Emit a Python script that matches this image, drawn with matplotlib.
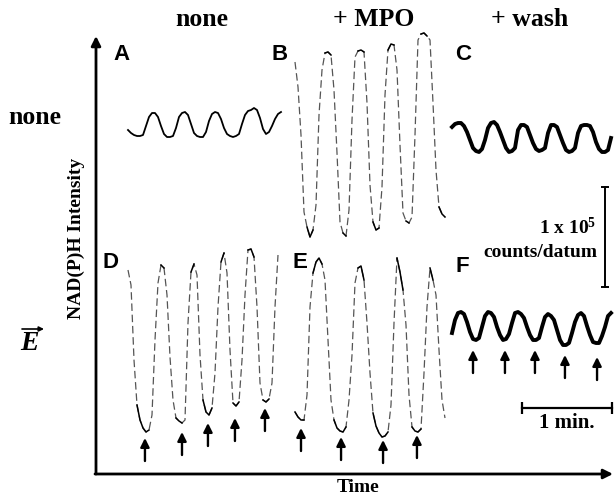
import numpy as np
import matplotlib
matplotlib.use("Agg")
import matplotlib.pyplot as plt

plt.rcParams['mathtext.fontset'] = 'custom'
plt.rcParams['mathtext.rm'] = 'Liberation Serif:bold'
plt.rcParams['mathtext.it'] = 'Liberation Serif:italic:bold'
plt.rcParams['mathtext.bf'] = 'Liberation Serif:bold'

# NAD(P)H traces, one value every 2 s, in 10^3 counts/datum above each panel's baseline
DT = 2.0
trace_A = [10, 7, 5, 4, 4, 5, 14, 23, 27, 27, 23, 14, 6, 3, 3, 4, 12, 23, 27, 28,
           25, 16, 7, 4, 3, 3, 8, 19, 26, 28, 27, 21, 12, 6, 4, 3, 4, 6, 16, 25,
           29, 30, 32, 30, 22, 11, 6, 8, 14, 21, 26, 28]
trace_B = [178, 153, 105, 28, 13, 3, 10, 35, 125, 170, 187, 188, 185, 150, 87, 18, 7, 4, 30, 120,
           183, 189, 190, 188, 137, 55, 18, 10, 12, 53, 145, 190, 196, 195, 170, 95, 27, 19, 17, 23,
           105, 200, 206, 207, 204, 200, 137, 70, 33, 26, 23]
trace_C = [33, 36, 37, 37, 34, 28, 20, 12, 9, 8, 11, 20, 32, 37, 38, 35, 28, 20, 12, 8,
           9, 12, 30, 35, 35, 33, 25, 17, 11, 9, 10, 12, 27, 35, 35, 33, 25, 17, 10, 8,
           9, 12, 27, 34, 35, 35, 34, 28, 18, 11, 8, 8, 10, 22]
trace_D = [170, 155, 80, 35, 20, 12, 8, 10, 25, 100, 157, 175, 172, 145, 83, 40, 22, 19, 17, 20,
           117, 168, 176, 165, 85, 40, 28, 25, 32, 67, 133, 178, 187, 167, 90, 37, 34, 38, 80, 145,
           190, 191, 183, 133, 57, 40, 38, 41, 57, 133, 185]
trace_E = [28, 23, 20, 20, 45, 133, 167, 178, 182, 176, 160, 100, 40, 20, 12, 9, 8, 13, 40, 85,
           157, 172, 174, 160, 117, 67, 27, 14, 7, 3, 4, 8, 35, 117, 182, 168, 150, 115, 45, 13,
           9, 8, 11, 67, 133, 172, 160, 145, 90, 40, 22]
trace_F = [17, 30, 37, 38, 36, 28, 18, 11, 10, 12, 23, 34, 38, 37, 33, 23, 15, 10, 11, 16,
           27, 37, 38, 36, 32, 23, 15, 10, 10, 12, 23, 33, 36, 34, 30, 20, 10, 5, 5, 7,
           17, 28, 35, 37, 34, 24, 15, 8, 7, 7, 14, 23, 34, 37]

# field pulses (arrows): time in s, arrow tip in 10^3 counts
stim_D = [11.3, 36.0, 53.3, 71.3, 91.3]
tip_D = [2, 8, 17, 22, 32]
stim_E = [4.0, 30.7, 58.7, 81.3]
tip_E = [12, 3, 0, 5]
stim_F = [14.0, 35.3, 55.3, 75.3, 96.7]
tip_F = [0, 0, 0, -5, -7]

col_labels = ["none", "+ MPO", "+ wash"]
row_labels = ["none", "E"]

W, H = 615, 496
PX_PER_S = 1.5
PX_PER_KC = 1.0

fig = plt.figure(figsize=(W / 100, H / 100), dpi=100)

ov = fig.add_axes([0, 0, 1, 1])
ov.set_xlim(0, W)
ov.set_ylim(H, 0)
ov.axis('off')


def panel_axes(x0, y0):
    # x0, y0 = pixel spot of t=0, I=0
    lo, hi, wpx = -60, 220, 170
    ax = fig.add_axes([x0 / W, (H - y0 + lo * PX_PER_KC) / H, wpx / W, (hi - lo) * PX_PER_KC / H])
    ax.set_xlim(0, wpx / PX_PER_S)
    ax.set_ylim(lo, hi)
    ax.axis('off')
    return ax


def draw_trace(ax, vals, kind):
    v = np.array(vals, dtype=float)
    t = np.arange(len(v)) * DT
    if kind == 'thin':
        ax.plot(t, v, color='k', lw=1.3, clip_on=False)
    elif kind == 'thick':
        ax.plot(t, v, color='k', lw=2.8, clip_on=False)
    else:
        ax.plot(t, v, color='#555555', lw=0.9, dashes=(6, 3), clip_on=False)
        steep = np.abs(np.gradient(v)) > 30
        ax.plot(t, np.ma.masked_where(steep, v), color='k', lw=1.1, clip_on=False)


def draw_arrows(ax, times, tips):
    for t, y in zip(times, tips):
        ax.annotate('', xy=(t, y), xytext=(t, y - 23),
                    arrowprops=dict(arrowstyle='-|>', color='k', lw=1.7, mutation_scale=13,
                                    shrinkA=0, shrinkB=0),
                    annotation_clip=False)


axA = panel_axes(128, 140)
axB = panel_axes(295, 240)
axC = panel_axes(452, 160)
axD = panel_axes(128, 440)
axE = panel_axes(295, 440)
axF = panel_axes(452, 350)

draw_trace(axA, trace_A, 'thin')
draw_trace(axB, trace_B, 'dash')
draw_trace(axC, trace_C, 'thick')
draw_trace(axD, trace_D, 'dash')
draw_trace(axE, trace_E, 'dash')
draw_trace(axF, trace_F, 'thick')
draw_arrows(axD, stim_D, tip_D)
draw_arrows(axE, stim_E, tip_E)
draw_arrows(axF, stim_F, tip_F)

# scale bars: 1 min and 1 x 10^5 counts
axF.plot([46.7, 46.7 + 60], [-58, -58], color='k', lw=1.6, marker='|', ms=8, mew=1.6, clip_on=False)
axF.plot([102, 102], [63, 63 + 100], color='k', lw=1.4, marker='_', ms=6, mew=1.4, clip_on=False)

# frame arrows
ov.annotate('', xy=(96, 36), xytext=(96, 474),
            arrowprops=dict(arrowstyle='-|>', color='k', lw=2, mutation_scale=14, shrinkA=0, shrinkB=0))
ov.annotate('', xy=(613, 474), xytext=(95, 474),
            arrowprops=dict(arrowstyle='-|>', color='k', lw=2, mutation_scale=14, shrinkA=0, shrinkB=0))

serif = dict(family='Liberation Serif', weight='bold')
for x, s in zip([202, 374, 530], col_labels):
    ov.text(x, 20, s, ha='center', va='center', fontsize=18.5, **serif)
ov.text(35, 118, row_labels[0], ha='center', va='center', fontsize=18.5, **serif)
ov.text(29, 343, row_labels[1], ha='center', va='center', fontsize=20,
        family='Liberation Serif', weight='bold', style='italic')
ov.annotate('', xy=(44, 329), xytext=(22, 329),
            arrowprops=dict(arrowstyle='-|>', color='k', lw=1.2, mutation_scale=7, shrinkA=0, shrinkB=0))

ov.text(76, 238, "NAD(P)H Intensity", rotation=90, ha='center', va='center', fontsize=14, **serif)
ov.text(358, 487, "Time", ha='center', va='center', fontsize=14, **serif)
ov.text(596, 234, r"1 x 10$^5$", ha='right', va='baseline', fontsize=14, **serif)
ov.text(597, 257, "counts/datum", ha='right', va='baseline', fontsize=14, **serif)
ov.text(567, 423, "1 min.", ha='center', va='center', fontsize=15, **serif)

sans = dict(family='Liberation Sans', weight='bold', fontsize=16, ha='center', va='center')
for (x, y), s in zip([(122, 55), (280, 55), (463, 55), (111, 262), (300, 263), (462, 267)], "ABCDEF"):
    ov.text(x, y, s, **sans)

fig.savefig("out.png", dpi=100)
